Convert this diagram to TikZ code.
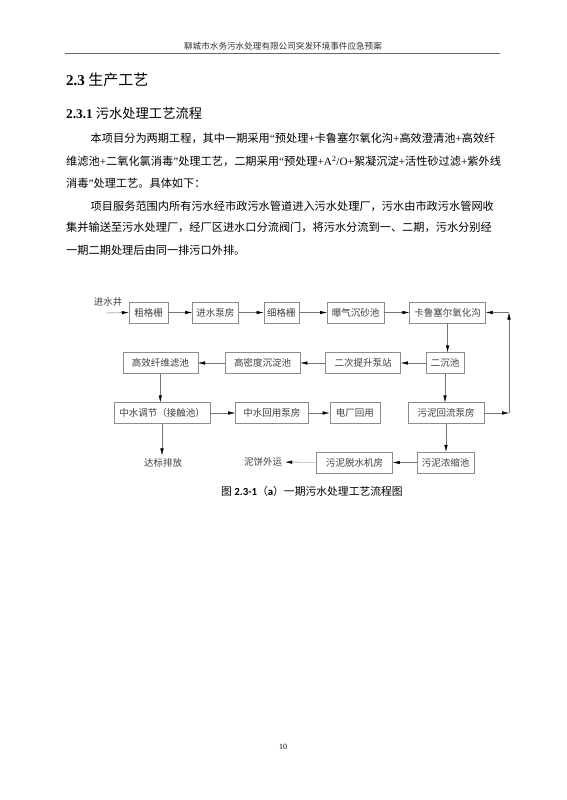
\documentclass[tikz,border=0pt]{standalone}
\usepackage{fontspec}
\setmainfont{Liberation Serif}
\newfontfamily\cjk{Noto Sans CJK SC}
\newfontfamily\cali{Carlito}
\usetikzlibrary{arrows.meta, positioning}
\XeTeXlinebreaklocale "zh"
\XeTeXlinebreakskip=0pt plus 1pt
\newcommand{\tm}[1]{{\rmfamily #1}}
\newcommand{\fullline}[2]{\makebox[#1][s]{#2}}

\begin{document}
\begin{tikzpicture}[x=1pt, y=-1pt,
    >={Latex[length=7pt, width=3.4pt, color=black]},
    box/.style={rectangle, draw=black!45, thin, minimum height=21pt, inner sep=0pt,
      font=\cjk\fontsize{9.5}{10}\selectfont, text=black!75},
    lbl/.style={inner sep=3pt, font=\cjk\fontsize{9.5}{10}\selectfont, text=black!75},
    para/.style={inner sep=0pt, anchor=west, font=\cjk\fontsize{11.2}{13}\selectfont},
    arrow/.style={->, draw=black!55, thin}]
  \fill[white] (0,0) rectangle (566,800);
  \useasboundingbox (0,0) rectangle (566,800);

  % page header
  \node[inner sep=0pt, font=\cjk\fontsize{8.6}{9}\selectfont, text=black!80] (hdr) at (283,46) {聊城市水务污水处理有限公司突发环境事件应急预案};
  \draw[black!60, line width=0.8pt] (65,53) -- (500,53);

  % headings and text
  \node[para, font=\cjk\fontsize{15}{17}\selectfont] (h1) at (66,80) {\tm{\bfseries 2.3} 生产工艺};
  \node[para, font=\cjk\fontsize{13.3}{15}\selectfont] (h2) at (66,113) {\tm{\bfseries 2.3.1} 污水处理工艺流程};
  \node[para] (l1) at (90.5,138.3) {\fullline{402.5pt}{本项目分为两期工程，其中一期采用\tm{“}预处理\tm{+}卡鲁塞尔氧化沟\tm{+}高效澄清池\tm{+}高效纤}};
  \node[para] (l2) at (66,161) {\fullline{427pt}{维滤池\tm{+}二氧化氯消毒\tm{”}处理工艺，二期采用\tm{“}预处理\tm{+A\textsuperscript{2}/O+}絮凝沉淀\tm{+}活性砂过滤\tm{+}紫外线}};
  \node[para] (l3) at (66,183.3) {消毒\tm{”}处理工艺。具体如下：};
  \node[para] (l4) at (90.5,206) {\fullline{402.5pt}{项目服务范围内所有污水经市政污水管道进入污水处理厂，污水由市政污水管网收}};
  \node[para] (l5) at (66,227.7) {\fullline{427pt}{集并输送至污水处理厂，经厂区进水口分流阀门，将污水分流到一、二期，污水分别经}};
  \node[para] (l6) at (66,250.7) {一期二期处理后由同一排污口外排。};

  % flow chart, first line
  \coordinate (jsj) at (105,313);
  \node[lbl, inner sep=0pt] (jsjl) at (108,302) {进水井};
  \node[box, minimum width=39pt] (cgs) at (148.5,312.5) {粗格栅};
  \node[box, minimum width=46pt, right=24pt of cgs] (jsbf) {进水泵房};
  \node[box, minimum width=35pt, right=25pt of jsbf] (xgs) {细格栅};
  \node[box, minimum width=57pt, right=28pt of xgs] (pqcs) {曝气沉砂池};
  \node[box, minimum width=76pt, right=25pt of pqcs] (kls) {卡鲁塞尔氧化沟};

  % second line
  \node[box, minimum width=38pt] (ecc) at (445,363) {二沉池};
  \node[box, minimum width=75pt, left=25pt of ecc] (ectb) {二次提升泵站};
  \node[box, minimum width=75pt, left=25pt of ectb] (gmd) {高密度沉淀池};
  \node[box, minimum width=75pt, left=27pt of gmd] (gxlc) {高效纤维滤池};

  % third line
  \node[box, minimum width=96pt] (zttj) at (162,413) {中水调节（接触池）};
  \node[box, minimum width=73pt, right=25pt of zttj] (zhbf) {中水回用泵房};
  \node[box, minimum width=50pt, right=21pt of zhbf] (dchy) {电厂回用};
  \node[box, minimum width=76pt] (wlhl) at (446,413) {污泥回流泵房};

  % fourth line
  \node[box, minimum width=57pt] (wlns) at (445.5,462.5) {污泥浓缩池};
  \node[box, minimum width=76pt, left=24pt of wlns] (wltj) {污泥脱水机房};
  \node[lbl] (nbwy) at (263,462) {泥饼外运};
  \node[lbl] (dbpf) at (163,463) {达标排放};
  \coordinate (hl1) at (509,413);
  \coordinate (hl2) at (509,312.5);

  \draw[arrow] (jsj) -- (cgs.west);
  \draw[arrow] (cgs) -- (jsbf); \draw[arrow] (jsbf) -- (xgs); \draw[arrow] (xgs) -- (pqcs); \draw[arrow] (pqcs) -- (kls);
  \draw[arrow] (kls.south) -- (kls.south |- ecc.north);
  \draw[arrow] (ecc) -- (ectb); \draw[arrow] (ectb) -- (gmd); \draw[arrow] (gmd) -- (gxlc);
  \draw[arrow] (gxlc.south) -- (gxlc.south |- zttj.north);
  \draw[arrow] (zttj) -- (zhbf); \draw[arrow] (zhbf) -- (dchy);
  \draw[arrow] (zttj.south) -- (zttj.south |- dbpf.north);
  \draw[arrow] (ecc.south) -- (ecc.south |- wlhl.north);
  \draw[arrow] (wlhl.south) -- (wlhl.south |- wlns.north);
  \draw[arrow] (wlns) -- (wltj); \draw[arrow] (wltj) -- (nbwy);
  \draw[arrow] (wlhl.east) -- (hl1); \draw[arrow] (hl1) -- (hl2); \draw[arrow] (hl2) -- (kls.east);

  % caption and page number
  \node[inner sep=0pt, font=\cjk\fontsize{10.8}{12}\selectfont] (cap) at (312,491) {图 {\cali\bfseries 2.3-1}（{\cali\bfseries a}）一期污水处理工艺流程图};
  \node[inner sep=0pt, font=\fontsize{8}{9}\selectfont] (pg) at (283,747) {10};
\end{tikzpicture}
\end{document}
